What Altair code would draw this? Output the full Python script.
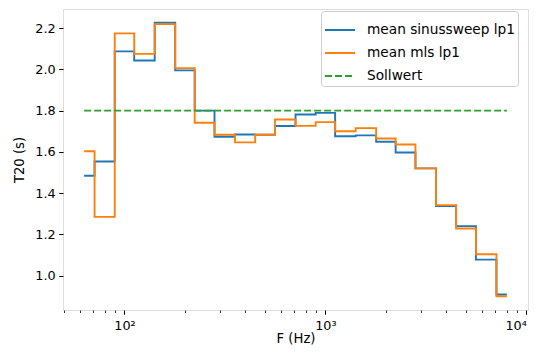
import altair as alt
import pandas as pd

freqs = [63, 80, 100, 125, 160, 200, 250, 315, 400, 500, 630, 800,
         1000, 1250, 1600, 2000, 2500, 3150, 4000, 5000, 6300, 8000]
sweep = [1.484, 1.553, 2.087, 2.043, 2.226, 1.995, 1.800, 1.673, 1.684, 1.683, 1.725, 1.781,
         1.789, 1.676, 1.680, 1.649, 1.597, 1.520, 1.338, 1.240, 1.078, 0.909]
mls = [1.603, 1.285, 2.174, 2.075, 2.219, 2.006, 1.741, 1.683, 1.646, 1.683, 1.757, 1.726,
       1.744, 1.700, 1.715, 1.665, 1.636, 1.520, 1.342, 1.229, 1.104, 0.900]
sollwert = 1.8
names = ["mean sinussweep lp1", "mean mls lp1", "Sollwert"]
colors = ["#1f77b4", "#ff7f0e", "#2ca02c"]
dashes = [[1, 0], [1, 0], [7, 3]]
major_ticks = [100, 1000, 10000]
minor_ticks = [50, 60, 70, 80, 90, 200, 300, 400, 500, 600, 700, 800, 900,
               2000, 3000, 4000, 5000, 6000, 7000, 8000, 9000]
y_ticks = [1.0, 1.2, 1.4, 1.6, 1.8, 2.0, 2.2]

steps = pd.DataFrame({
    "F": freqs * 2,
    "T20": sweep + mls,
    "series": [names[0]] * len(freqs) + [names[1]] * len(freqs),
})
ref = pd.DataFrame({"F": [freqs[0], freqs[-1]], "T20": [sollwert, sollwert],
                    "series": [names[2], names[2]]})

FS_TICK = 12.8
FS_TITLE = 13.2
FS_LEG = 13.7
xscale = alt.Scale(type="log", domain=[49.44, 10193], nice=False)
yscale = alt.Scale(domain=[0.8337, 2.2923], nice=False, zero=False)
cscale = alt.Scale(domain=names, range=colors)
dscale = alt.Scale(domain=names, range=dashes)

yaxis = alt.Axis(values=y_ticks, format=".1f", grid=False, domain=False,
                 tickSize=4.3, tickWidth=1, tickColor="black", labelPadding=3.5,
                 labelFontSize=FS_TICK, labelColor="black", titleFontSize=FS_TITLE,
                 titleFontWeight="normal", titleColor="black", title="T20 (s)",
                 titlePadding=8)

legend = alt.Legend(title=None, orient="none", legendX=258, legendY=2,
                    symbolType="stroke", symbolSize=900, symbolStrokeWidth=1.9,
                    labelFontSize=FS_LEG, labelColor="black", labelOffset=11,
                    rowPadding=-2, padding=3, fillColor="white",
                    strokeColor="#cccccc", cornerRadius=3, labelLimit=300)

main = alt.Chart(steps).mark_line(interpolate="step", strokeWidth=1.9).encode(
    x=alt.X("F:Q", scale=xscale,
            axis=alt.Axis(values=major_ticks, grid=False, domain=False,
                          tickSize=4.3, tickWidth=1, tickColor="black",
                          labelExpr="datum.value < 500 ? '10²' : datum.value < 5000 ? '10³' : '10⁴'",
                          labelFontSize=FS_TICK, labelColor="black", labelPadding=5.5,
                          labelFlush=3,
                          title="F (Hz)", titleFontSize=FS_TITLE, titleFontWeight="normal",
                          titleColor="black", titleBaseline="alphabetic", titleY=32.5,
                          orient="bottom")),
    y=alt.Y("T20:Q", scale=yscale, axis=yaxis),
    color=alt.Color("series:N", scale=cscale, legend=legend, sort=names),
    strokeDash=alt.StrokeDash("series:N", scale=dscale, legend=legend, sort=names),
)

refline = alt.Chart(ref).mark_line(strokeWidth=1.9).encode(
    x=alt.X("F:Q", scale=xscale,
            axis=alt.Axis(values=minor_ticks, grid=False, domain=False, labels=False,
                          tickSize=2.5, tickWidth=0.8, tickColor="black",
                          title="", orient="bottom")),
    y=alt.Y("T20:Q", scale=yscale, axis=yaxis),
    color=alt.Color("series:N", scale=cscale, legend=legend, sort=names),
    strokeDash=alt.StrokeDash("series:N", scale=dscale, legend=legend, sort=names),
)

chart = alt.layer(main, refline).resolve_axis(x="independent").properties(
    width=465, height=301,
    autosize=alt.AutoSizeParams(type="none"),
    padding={"left": 55, "top": 1, "right": 1, "bottom": 36},
).configure_view(stroke="black", strokeWidth=1).configure(
    font="DejaVu Sans", background="white"
)

chart.save("out.html", embed_options={"renderer": "svg", "actions": False})
